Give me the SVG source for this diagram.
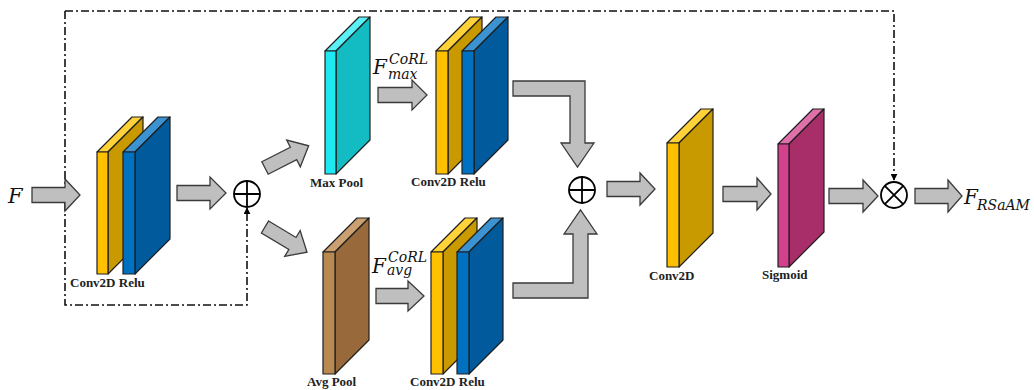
<svg xmlns="http://www.w3.org/2000/svg" width="1034" height="390" viewBox="0 0 1034 390">
<style>
.face{stroke:#1e1e1e;stroke-width:1.2;stroke-linejoin:round}
.arr{fill:#bfbfbf;stroke:#3a3a3a;stroke-width:1.3;stroke-linejoin:miter}
.dd{fill:none;stroke:#111;stroke-width:1.6;stroke-dasharray:8 3 2 3}
.op{fill:#fff;stroke:#000;stroke-width:1.8}
.lbl{font-family:"Liberation Serif",serif;font-weight:bold;font-size:13px;fill:#222}
.math{font-family:"DejaVu Serif",serif;font-style:italic;fill:#111}
.yf{fill:#ffc000}.ys{fill:#c99a00}.yt{fill:#ffd23a}
.bf{fill:#0070c0}.bs{fill:#005a9c}.bt{fill:#3d92d2}
.cf{fill:#1ee8f2}.cs{fill:#12bcc2}.ct{fill:#5af0f6}
.nf{fill:#b88a52}.ns{fill:#98693a}.nt{fill:#caa070}
.pf{fill:#d4408c}.ps{fill:#a72e68}.pt{fill:#e070aa}
</style>
<defs>
<marker id="ah" viewBox="0 0 10 10" refX="9" refY="5" markerWidth="7" markerHeight="7" markerUnits="userSpaceOnUse" orient="auto">
<path d="M0,0 L10,5 L0,10 Z" fill="#000"/>
</marker>
</defs>

<g id="connectors">
<path class="dd" d="M65,11 H894 V180" marker-end="url(#ah)"/>
<path class="dd" d="M65,11 V305 H247 V208" marker-end="url(#ah)"/>
<path class="arr" d="M32,187.5 H65 V179 L80,195 L65,211 V202.5 H32 Z"/>
<path class="arr" d="M177,185.5 H210 V177 L226,193 L210,209 V200.5 H177 Z"/>
<path class="arr" transform="translate(265,168) rotate(-27)" d="M0,-7 H32 V-15 L49,0 L32,15 V7 H0 Z"/>
<path class="arr" transform="translate(265,227) rotate(31)" d="M0,-7 H32 V-15 L49,0 L32,15 V7 H0 Z"/>
<path class="arr" d="M378,87.5 H412 V80 L427,95 L412,110 V102.5 H378 Z"/>
<path class="arr" d="M376,288.5 H408 V281 L424,296 L408,311 V303.5 H376 Z"/>
<path class="arr" d="M513,81 H585 V143 H594 L577.5,167 L561,143 H570 V96 H513 Z"/>
<path class="arr" d="M513,298 H588 V234 H597 L580.5,210 L564,234 H573 V283 H513 Z"/>
<path class="arr" d="M607,181.5 H640 V173 L655,189 L640,205 V196.5 H607 Z"/>
<path class="arr" d="M723,186.5 H757 V178 L771,194 L757,210 V201.5 H723 Z"/>
<path class="arr" d="M829,188.5 H863 V180 L878,196 L863,212 V203.5 H829 Z"/>
<path class="arr" d="M915,188.5 H948 V180 L962,196 L948,212 V203.5 H915 Z"/>
</g>

<g id="input-F">
<text class="math" x="8" y="203" font-size="21">F</text>
</g>

<g id="conv-relu-1">
<polygon class="face yt" points="97,152 132,117 143,117 108,152"/>
<polygon class="face ys" points="108,152 143,117 143,239 108,274"/>
<rect class="face yf" x="97" y="152" width="11" height="122"/>
<polygon class="face bt" points="123,152 158,117 170,117 135,152"/>
<polygon class="face bs" points="135,152 170,117 170,239 135,274"/>
<rect class="face bf" x="123" y="152" width="12" height="122"/>
<text class="lbl" x="70" y="287">Conv2D Relu</text>
</g>

<g id="add-1">
<circle class="op" cx="247" cy="194" r="13"/>
<path d="M234,194 H260 M247,181 V207" stroke="#000" stroke-width="1.8"/>
</g>

<g id="max-pool">
<polygon class="face ct" points="325,51 359,17 370,17 336,51"/>
<polygon class="face cs" points="336,51 370,17 370,140 336,174"/>
<rect class="face cf" x="325" y="51" width="11" height="123"/>
<text class="lbl" x="310" y="187">Max Pool</text>
</g>

<g id="label-fmax">
<text class="math" x="373" y="74" font-size="20">F<tspan x="389" y="64" font-size="14">CoRL</tspan><tspan x="388" y="79" font-size="14">max</tspan></text>
</g>

<g id="conv-relu-top">
<polygon class="face yt" points="436,51 470,17 482,17 448,51"/>
<polygon class="face ys" points="448,51 482,17 482,140 448,174"/>
<rect class="face yf" x="436" y="51" width="12" height="123"/>
<polygon class="face bt" points="462,51 496,17 508,17 474,51"/>
<polygon class="face bs" points="474,51 508,17 508,140 474,174"/>
<rect class="face bf" x="462" y="51" width="12" height="123"/>
<text class="lbl" x="411" y="186">Conv2D Relu</text>
</g>

<g id="avg-pool">
<polygon class="face nt" points="323,252 357,218 369,218 335,252"/>
<polygon class="face ns" points="335,252 369,218 369,340 335,374"/>
<rect class="face nf" x="323" y="252" width="12" height="122"/>
<text class="lbl" x="307" y="386">Avg Pool</text>
</g>

<g id="label-favg">
<text class="math" x="372" y="273" font-size="20">F<tspan x="388" y="262" font-size="14">CoRL</tspan><tspan x="387" y="275" font-size="14">avg</tspan></text>
</g>

<g id="conv-relu-bottom">
<polygon class="face yt" points="431,252 465,218 477,218 443,252"/>
<polygon class="face ys" points="443,252 477,218 477,340 443,374"/>
<rect class="face yf" x="431" y="252" width="12" height="122"/>
<polygon class="face bt" points="457,252 491,218 503,218 469,252"/>
<polygon class="face bs" points="469,252 503,218 503,340 469,374"/>
<rect class="face bf" x="457" y="252" width="12" height="122"/>
<text class="lbl" x="410" y="386">Conv2D Relu</text>
</g>

<g id="add-2">
<circle class="op" cx="582" cy="190" r="13"/>
<path d="M569,190 H595 M582,177 V203" stroke="#000" stroke-width="1.8"/>
</g>

<g id="conv2d">
<polygon class="face yt" points="667,143 701,109 713,109 679,143"/>
<polygon class="face ys" points="679,143 713,109 713,233 679,267"/>
<rect class="face yf" x="667" y="143" width="12" height="124"/>
<text class="lbl" x="649" y="280">Conv2D</text>
</g>

<g id="sigmoid">
<polygon class="face pt" points="778,144 813,109 824,109 789,144"/>
<polygon class="face ps" points="789,144 824,109 824,232 789,267"/>
<rect class="face pf" x="778" y="144" width="11" height="123"/>
<text class="lbl" x="762" y="279">Sigmoid</text>
</g>

<g id="multiply">
<circle class="op" cx="894" cy="195" r="13"/>
<path d="M884.8,185.8 L903.2,204.2 M903.2,185.8 L884.8,204.2" stroke="#000" stroke-width="1.8"/>
</g>

<g id="output-F">
<text class="math" x="964" y="204" font-size="20">F<tspan x="977" y="210" font-size="14">RSaAM</tspan></text>
</g>
</svg>
